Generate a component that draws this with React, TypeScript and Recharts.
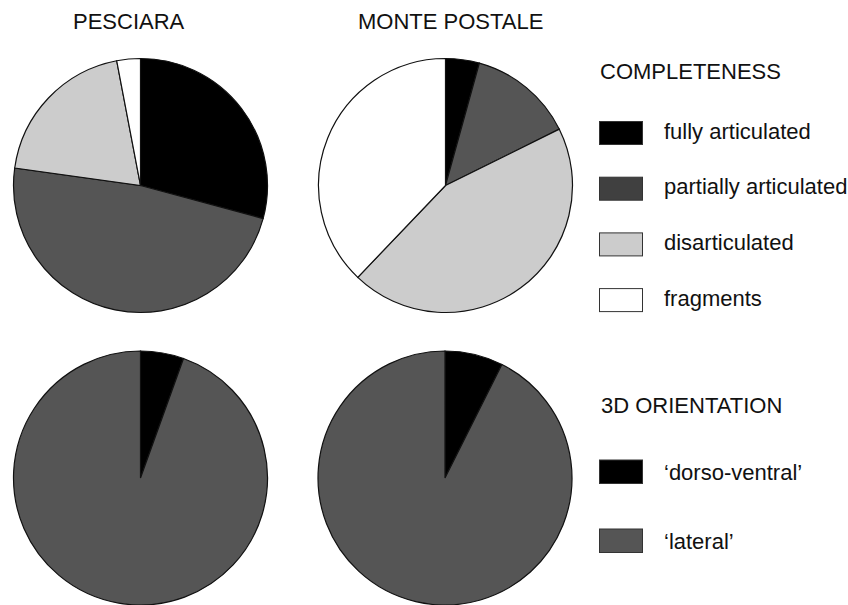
import { Pie, PieChart, Cell } from "recharts";

const sites = ["PESCIARA", "MONTE POSTALE"];

const completenessLabels = [
  "fully articulated",
  "partially articulated",
  "disarticulated",
  "fragments",
];
const pesciaraCompleteness = [29.2, 48.0, 19.8, 3.0];
const montePostaleCompleteness = [4.3, 13.4, 44.5, 37.9];

const orientationLabels = ["\u2018dorso-ventral\u2019", "\u2018lateral\u2019"];
const pesciaraOrientation = [5.5, 94.5];
const montePostaleOrientation = [7.4, 92.6];

const completenessColors = ["#000000", "#555555", "#cccccc", "#ffffff"];
const completenessSwatches = ["#000000", "#404040", "#cccccc", "#ffffff"];
const orientationColors = ["#000000", "#555555"];

const W = 848;
const H = 605;
const R = 127;
const FONT = "'Liberation Sans', Arial, sans-serif";

const toData = (labels: string[], values: number[]) =>
  labels.map((name, i) => ({ name, value: values[i] }));

export default function App() {
  const pies = [
    { cx: 140.5, cy: 185.5, data: toData(completenessLabels, pesciaraCompleteness), colors: completenessColors },
    { cx: 445.5, cy: 185.5, data: toData(completenessLabels, montePostaleCompleteness), colors: completenessColors },
    { cx: 140.5, cy: 478, data: toData(orientationLabels, pesciaraOrientation), colors: orientationColors },
    { cx: 445, cy: 478, data: toData(orientationLabels, montePostaleOrientation), colors: orientationColors },
  ];

  return (
    <div style={{ position: "absolute", left: 0, top: 0, width: W, height: H, background: "#fff" }}>
      <PieChart width={W} height={H} margin={{ top: 0, right: 0, bottom: 0, left: 0 }}>
        {pies.map((p, k) => (
          <Pie
            key={k}
            data={p.data}
            dataKey="value"
            nameKey="name"
            cx={p.cx}
            cy={p.cy}
            outerRadius={R}
            startAngle={90}
            endAngle={-270}
            stroke="#111"
            strokeWidth={1.2}
            isAnimationActive={false}
          >
            {p.data.map((d, i) => (
              <Cell key={d.name} fill={p.colors[i]} />
            ))}
          </Pie>
        ))}

        <text x={73} y={29} fontFamily={FONT} fontSize={22} fill="#111">
          {sites[0]}
        </text>
        <text x={358} y={29} fontFamily={FONT} fontSize={22} fill="#111">
          {sites[1]}
        </text>

        <text x={600} y={79} fontFamily={FONT} fontSize={22} fill="#111">
          COMPLETENESS
        </text>
        {completenessLabels.map((l, i) => {
          const top = 121.5 + i * 55.7;
          return (
            <g key={l}>
              <rect x={599.5} y={top} width={43} height={23} fill={completenessSwatches[i]} stroke="#333" strokeWidth={1} />
              <text x={664} y={top + 17} fontFamily={FONT} fontSize={22} fill="#111">
                {l}
              </text>
            </g>
          );
        })}

        <text x={601} y={413} fontFamily={FONT} fontSize={22} fill="#111">
          3D ORIENTATION
        </text>
        {orientationLabels.map((l, i) => {
          const top = 460 + i * 69;
          return (
            <g key={l}>
              <rect x={599.5} y={top} width={43} height={23.5} fill={orientationColors[i]} stroke="#333" strokeWidth={1} />
              <text x={664} y={top + 20} fontFamily={FONT} fontSize={22} fill="#111">
                {l}
              </text>
            </g>
          );
        })}
      </PieChart>
    </div>
  );
}
